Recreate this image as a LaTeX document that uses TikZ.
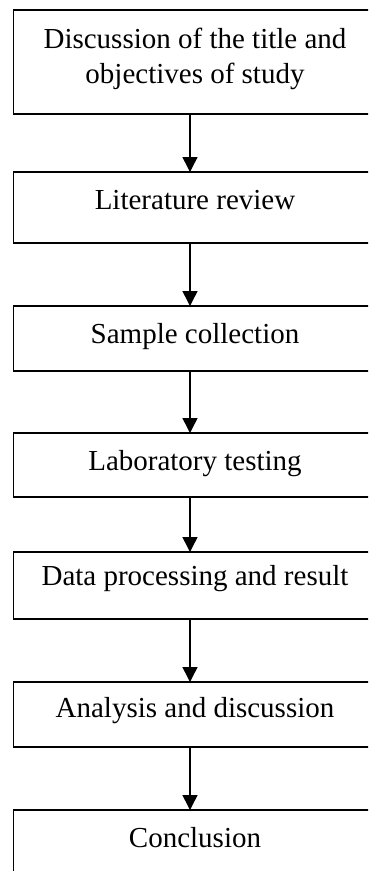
\documentclass[tikz,border=0pt]{standalone}
\usepackage{fontspec}
\setmainfont{Liberation Serif}
\usetikzlibrary{arrows.meta}
\tikzset{
  box/.style={draw=black, line width=1.5pt, rectangle, inner sep=0pt, outer sep=0pt, minimum width=363.5pt},
  lbl/.style={anchor=base, inner sep=0pt, font=\fontsize{29}{34}\selectfont},
  arr/.style={line width=1.5pt, -{Triangle[width=15pt,length=15pt]}}
}
\begin{document}
\begin{tikzpicture}[x=1pt,y=-1pt]
\useasboundingbox (0,0) rectangle (368,871);
\clip (0,0) rectangle (368,871);
\coordinate (ax) at (190,0);
\node[box, minimum height=104pt] (b1) at (195.25,62) {};
\node[box, minimum height=71pt] (b2) at (195.25,207.5) {};
\node[box, minimum height=65pt] (b3) at (195.25,338.5) {};
\node[box, minimum height=64pt] (b4) at (195.25,465) {};
\node[box, minimum height=67pt] (b5) at (195.25,585.5) {};
\node[box, minimum height=65pt] (b6) at (195.25,714.5) {};
\node[box, minimum height=70pt] (b7) at (195.25,845) {};
\node[lbl] (t1a) at (195,48.5) {Discussion of the title and};
\node[lbl] (t1b) at (195,83.5) {objectives of study};
\node[lbl] (t2) at (195,209) {Literature review};
\node[lbl] (t3) at (195,343) {Sample collection};
\node[lbl] (t4) at (195,470) {Laboratory testing};
\node[lbl] (t5) at (195,585) {Data processing and result};
\node[lbl] (t6) at (195,717) {Analysis and discussion};
\node[lbl] (t7) at (195,847) {Conclusion};
\draw[arr] (b1.south -| ax) -- (b2.north -| ax);
\draw[arr] (b2.south -| ax) -- (b3.north -| ax);
\draw[arr] (b3.south -| ax) -- (b4.north -| ax);
\draw[arr] (b4.south -| ax) -- (b5.north -| ax);
\draw[arr] (b5.south -| ax) -- (b6.north -| ax);
\draw[arr] (b6.south -| ax) -- (b7.north -| ax);
\end{tikzpicture}
\end{document}
